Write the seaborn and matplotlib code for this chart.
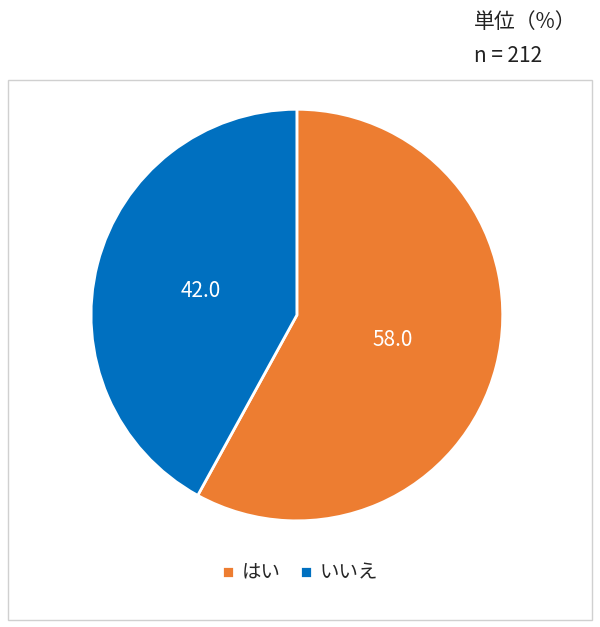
import matplotlib
matplotlib.use("Agg")
import matplotlib.pyplot as plt
import seaborn as sns
from matplotlib.patches import Rectangle

labels = ["はい", "いいえ"]
values = [58.0, 42.0]
colors = ["#ED7D31", "#0070C0"]

sns.set_theme(style="white")
plt.rcParams['font.family'] = ['Noto Sans CJK JP', 'DejaVu Sans']

fig = plt.figure(figsize=(6, 6.27), dpi=100)

# outer frame
fig.patches.append(Rectangle((8 / 600, 7 / 627), 584 / 600, 540 / 627,
                             transform=fig.transFigure, fill=False,
                             edgecolor="#d0d0d0", linewidth=1))

ax = fig.add_axes([0.1483, 0.166, 0.693, 0.663])
wedges, texts, autotexts = ax.pie(
    values, colors=colors, startangle=90, counterclock=False,
    autopct="%.1f", pctdistance=0.48,
    wedgeprops=dict(edgecolor="white", linewidth=2),
    textprops=dict(color="white", fontsize=15))
ax.set_aspect("auto")
ax.set_xlim(-1.01, 1.01)
ax.set_ylim(-1.01, 1.01)

fig.text(0.79, 0.965, "単位（%）", fontsize=15, ha="left", va="center", color="#222222")
fig.text(0.79, 0.91, "n = 212", fontsize=15, ha="left", va="center", color="#222222")

fig.legend(wedges, labels, loc="center", bbox_to_anchor=(0.5, 0.086), ncol=2,
           frameon=False, fontsize=14, handlelength=0.6, handleheight=0.6,
           columnspacing=1.0, handletextpad=0.4)

fig.savefig("out.png", dpi=100)
